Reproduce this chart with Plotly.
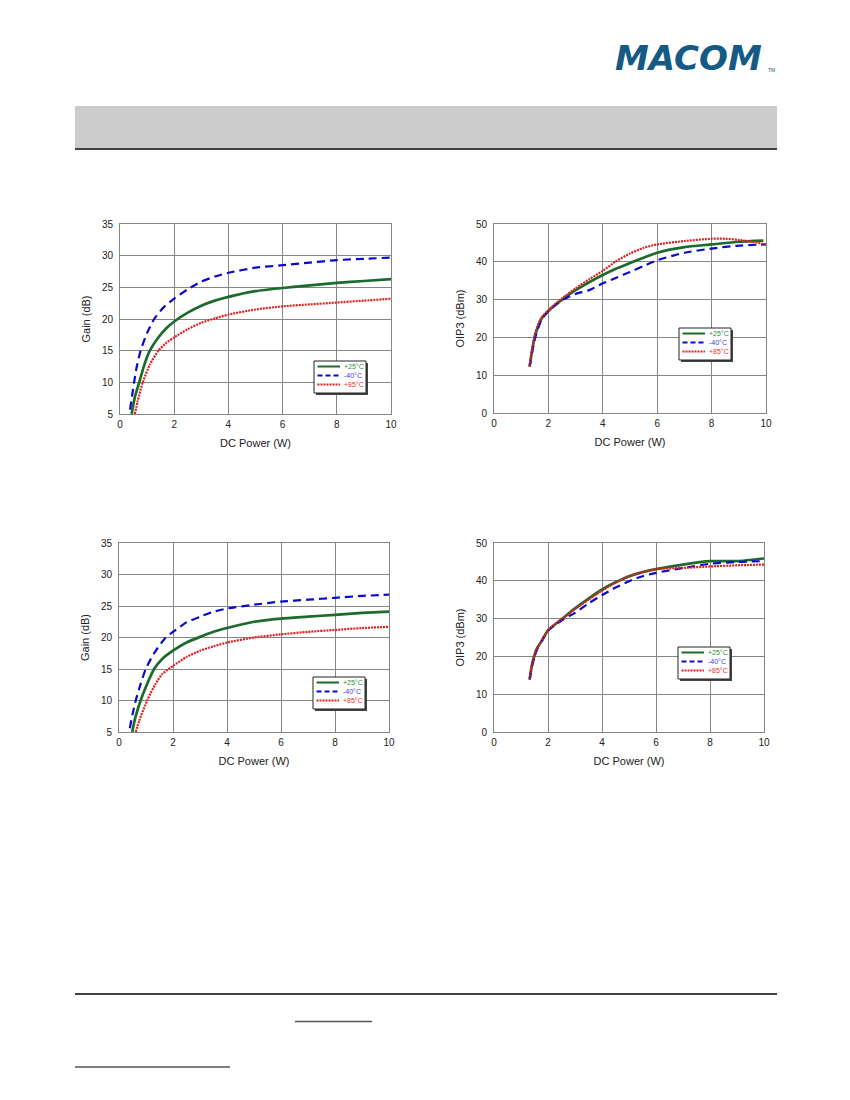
import plotly.graph_objects as go

W, H = 850, 1100
OFF = 8  # the page body margin shifts the figure by 8px

# ---- data ----
# top-left: Gain vs DC power
gain1_x_25 = [0.43, 0.55, 0.71, 0.9, 1.1, 1.4, 1.7, 2.0, 2.5, 3, 3.5, 4, 5, 6, 7, 8, 9, 10]
gain1_y_25 = [5, 7.7, 10, 12.8, 15, 17.0, 18.5, 19.6, 21.0, 22.1, 22.9, 23.5, 24.4, 24.9, 25.3, 25.7, 26.0, 26.3]
gain1_x_m40 = [0.37, 0.45, 0.52, 0.62, 0.76, 1.0, 1.26, 1.6, 2.0, 2.5, 3, 3.5, 4, 5, 6, 7, 8, 9, 10]
gain1_y_m40 = [5.7, 8, 10, 12.5, 15, 17.8, 20, 21.8, 23.2, 24.7, 25.9, 26.7, 27.3, 28.1, 28.5, 28.9, 29.3, 29.5, 29.7]
gain1_x_85 = [0.55, 0.65, 0.84, 1.1, 1.42, 1.7, 2.0, 2.5, 3, 3.5, 4, 5, 6, 7, 8, 9, 10]
gain1_y_85 = [5, 7, 10, 12.8, 15, 16.2, 17.1, 18.4, 19.4, 20.1, 20.7, 21.5, 22.0, 22.3, 22.6, 22.9, 23.2]

# top-right: OIP3 vs DC power
oip1_x_25 = [1.31, 1.4, 1.5, 1.6, 1.75, 2.0, 2.5, 3, 3.5, 4, 4.5, 5, 5.5, 6, 7, 8, 9, 9.9]
oip1_y_25 = [12.3, 16.5, 20.2, 22.5, 25, 27, 30, 32.5, 34.6, 36.5, 38.2, 39.7, 41.1, 42.4, 43.9, 44.6, 45.3, 45.6]
oip1_x_m40 = [1.31, 1.4, 1.5, 1.6, 1.75, 2.0, 2.5, 3, 3.5, 4, 4.5, 5, 5.5, 6, 7, 8, 9, 10]
oip1_y_m40 = [12.3, 16, 19.5, 22, 24.7, 27, 29.9, 31.5, 32.5, 34.3, 35.8, 37.3, 38.9, 40.4, 42.4, 43.5, 44.3, 44.6]
oip1_x_85 = [1.31, 1.4, 1.5, 1.6, 1.75, 2.0, 2.5, 3, 3.5, 4, 4.5, 5, 5.5, 6, 7, 8, 8.5, 9, 9.5, 10]
oip1_y_85 = [12.3, 16.8, 20.5, 23, 25.3, 27.2, 30.3, 33, 35.4, 37.6, 40.2, 42.2, 43.7, 44.6, 45.5, 46.1, 46.1, 45.8, 45.3, 44.6]

# bottom-left: Gain vs DC power
gain2_x_25 = [0.49, 0.6, 0.8, 1.0, 1.3, 1.6, 2.0, 2.5, 3, 3.5, 4, 5, 6, 7, 8, 9, 10]
gain2_y_25 = [5, 7.2, 10, 12.2, 15, 16.6, 17.9, 19.2, 20.1, 20.9, 21.5, 22.5, 23.0, 23.3, 23.6, 23.9, 24.1]
gain2_x_m40 = [0.4, 0.5, 0.62, 0.8, 0.99, 1.3, 1.73, 2.0, 2.5, 3, 3.5, 4, 5, 6, 7, 8, 9, 10]
gain2_y_m40 = [5.6, 7.8, 10, 12.6, 15, 17.5, 20, 20.9, 22.4, 23.3, 24.1, 24.6, 25.2, 25.7, 26.0, 26.3, 26.6, 26.8]
gain2_x_85 = [0.62, 0.75, 1.04, 1.35, 1.6, 2.0, 2.5, 3, 3.5, 4, 5, 6, 7, 8, 9, 10]
gain2_y_85 = [5, 6.8, 10, 12.6, 14.2, 15.5, 16.9, 17.9, 18.6, 19.2, 20.0, 20.5, 20.9, 21.2, 21.5, 21.7]

# bottom-right: OIP3 vs DC power
oip2_x = [1.32, 1.4, 1.5, 1.6, 1.75, 2, 2.5, 3, 3.5, 4, 4.5, 5, 5.5, 6, 7, 8, 9, 10]
oip2_y_25 = [13.9, 17.5, 20.3, 22.2, 23.9, 26.9, 29.8, 32.7, 35.3, 37.7, 39.6, 41.2, 42.3, 43.1, 44.3, 45.2, 45.2, 45.9]
oip2_y_m40 = [13.9, 17.2, 20, 22, 23.8, 26.8, 29.5, 31.5, 34.0, 36.2, 38.2, 39.9, 41.2, 42.1, 43.4, 44.5, 45.0, 45.2]
oip2_y_85 = [13.9, 17.5, 20.3, 22.2, 23.9, 26.9, 29.8, 32.5, 35.0, 37.4, 39.5, 41.1, 42.3, 43.1, 43.4, 43.8, 44.1, 44.3]

temp_names = ["+25°C", "-40°C", "+85°C"]
x_ticks = [0, 2, 4, 6, 8, 10]
gain_ticks = [5, 10, 15, 20, 25, 30, 35]
oip_ticks = [0, 10, 20, 30, 40, 50]

# ---- styling ----
GREEN, BLUE, RED = "#1c6b2c", "#0a0acc", "#e02020"
TXT_COL = {"+25°C": "#2e8b3e", "-40°C": "#3a3ae0", "+85°C": "#ee3030"}
LINES = {
    "+25°C": dict(color=GREEN, width=2.7, dash="solid"),
    "-40°C": dict(color=BLUE, width=2.2, dash="8px,5px"),
    "+85°C": dict(color=RED, width=2.2, dash="2px,1px"),
}
LEG_DASH = {"+25°C": "solid", "-40°C": "5px,3px", "+85°C": "2px,1px"}
FONT = "Liberation Sans, Arial, sans-serif"


def px(x):
    return (x - OFF) / W


def py(y):
    return 1 - (y - OFF) / H


# plot area boxes in page pixels: (left, top, right, bottom)
panels = [
    dict(box=(120, 224, 391, 414), ytitle="Gain (dB)", yrange=[5, 35], yticks=gain_ticks,
         series=[(gain1_x_25, gain1_y_25), (gain1_x_m40, gain1_y_m40), (gain1_x_85, gain1_y_85)],
         legend=(314, 361)),
    dict(box=(494, 224, 766, 413), ytitle="OIP3 (dBm)", yrange=[0, 50], yticks=oip_ticks,
         series=[(oip1_x_25, oip1_y_25), (oip1_x_m40, oip1_y_m40), (oip1_x_85, oip1_y_85)],
         legend=(679, 328)),
    dict(box=(119, 543, 389, 732), ytitle="Gain (dB)", yrange=[5, 35], yticks=gain_ticks,
         series=[(gain2_x_25, gain2_y_25), (gain2_x_m40, gain2_y_m40), (gain2_x_85, gain2_y_85)],
         legend=(313, 677)),
    dict(box=(494, 543, 764, 732), ytitle="OIP3 (dBm)", yrange=[0, 50], yticks=oip_ticks,
         series=[(oip2_x, oip2_y_25), (oip2_x, oip2_y_m40), (oip2_x, oip2_y_85)],
         legend=(678, 647)),
]

fig = go.Figure()
shapes = []
annotations = []
layout_axes = {}

for i, p in enumerate(panels, start=1):
    sfx = "" if i == 1 else str(i)
    l, t, r, b = p["box"]
    layout_axes["xaxis" + sfx] = dict(
        domain=[px(l), px(r)], anchor="y" + sfx, range=[0, 10], tickvals=x_ticks,
        showgrid=True, gridcolor="#858585", gridwidth=1, zeroline=False,
        showline=True, linecolor="#858585", linewidth=1, mirror=True,
        ticks="", ticklabelstandoff=1, tickfont=dict(size=10, color="#222", family=FONT),
        title=dict(text="DC Power (W)", font=dict(size=11, color="#222", family=FONT), standoff=10),
        automargin=False, fixedrange=True,
    )
    layout_axes["yaxis" + sfx] = dict(
        domain=[py(b), py(t)], anchor="x" + sfx, range=p["yrange"], tickvals=p["yticks"],
        showgrid=True, gridcolor="#858585", gridwidth=1, zeroline=False,
        showline=True, linecolor="#858585", linewidth=1, mirror=True,
        ticks="", ticklabelstandoff=4, tickfont=dict(size=10, color="#222", family=FONT),
        title=dict(text=p["ytitle"], font=dict(size=11, color="#222", family=FONT), standoff=9),
        automargin=False, fixedrange=True,
    )
    for name, (xs, ys) in zip(temp_names, p["series"]):
        fig.add_trace(go.Scatter(
            x=xs, y=ys, mode="lines", name=name, showlegend=False,
            line=dict(shape="spline", smoothing=0.6, **LINES[name]),
            xaxis="x" + sfx, yaxis="y" + sfx, hoverinfo="x+y+name",
        ))

    # small boxed legend with a drop shadow, like the datasheet
    lx, ly = p["legend"]
    bw, bh = 52, 32
    shapes.append(dict(type="rect", xref="paper", yref="paper",
                       x0=px(lx + 2), x1=px(lx + bw + 2), y0=py(ly + bh + 2), y1=py(ly + 2),
                       fillcolor="#444444", line=dict(width=0), layer="above"))
    shapes.append(dict(type="rect", xref="paper", yref="paper",
                       x0=px(lx), x1=px(lx + bw), y0=py(ly + bh), y1=py(ly),
                       fillcolor="white", line=dict(color="#222", width=1), layer="above"))
    for k, name in enumerate(temp_names):
        ry = ly + 5.5 + k * 9
        shapes.append(dict(type="line", xref="paper", yref="paper",
                           x0=px(lx + 3.5), x1=px(lx + 26), y0=py(ry), y1=py(ry),
                           line=dict(color=LINES[name]["color"], width=2, dash=LEG_DASH[name]),
                           layer="above"))
        annotations.append(dict(xref="paper", yref="paper", x=px(lx + 28), y=py(ry),
                                xanchor="left", yanchor="middle", showarrow=False,
                                text=name, font=dict(size=7, color=TXT_COL[name], family=FONT)))

# ---- page furniture: header bar, logo, footer rules ----
shapes.append(dict(type="rect", xref="paper", yref="paper", x0=px(75), x1=px(777),
                   y0=py(148), y1=py(106), fillcolor="#cccccc", line=dict(width=0)))
shapes.append(dict(type="line", xref="paper", yref="paper", x0=px(75), x1=px(777),
                   y0=py(149), y1=py(149), line=dict(color="black", width=1.6)))
shapes.append(dict(type="line", xref="paper", yref="paper", x0=px(75), x1=px(777),
                   y0=py(994), y1=py(994), line=dict(color="black", width=1.4)))
shapes.append(dict(type="line", xref="paper", yref="paper", x0=px(295), x1=px(372),
                   y0=py(1021.5), y1=py(1021.5), line=dict(color="#555", width=1.3)))
shapes.append(dict(type="line", xref="paper", yref="paper", x0=px(75), x1=px(230),
                   y0=py(1067), y1=py(1067), line=dict(color="#555", width=1.3)))

annotations.append(dict(xref="paper", yref="paper", x=px(764), y=py(58), xanchor="right",
                        yanchor="middle", showarrow=False, text="MACOM",
                        font=dict(size=34, color="#145a85", family="DejaVu Sans",
                                  weight="bold", style="italic")))
annotations.append(dict(xref="paper", yref="paper", x=px(766), y=py(70), xanchor="left",
                        yanchor="middle", showarrow=False, text="TM",
                        font=dict(size=5, color="#145a85", family=FONT)))

fig.update_layout(
    width=W, height=H,
    margin=dict(l=0, r=0, t=0, b=0),
    paper_bgcolor="white", plot_bgcolor="white",
    showlegend=False,
    shapes=shapes, annotations=annotations,
    **layout_axes,
)

fig.write_html("out.html")
